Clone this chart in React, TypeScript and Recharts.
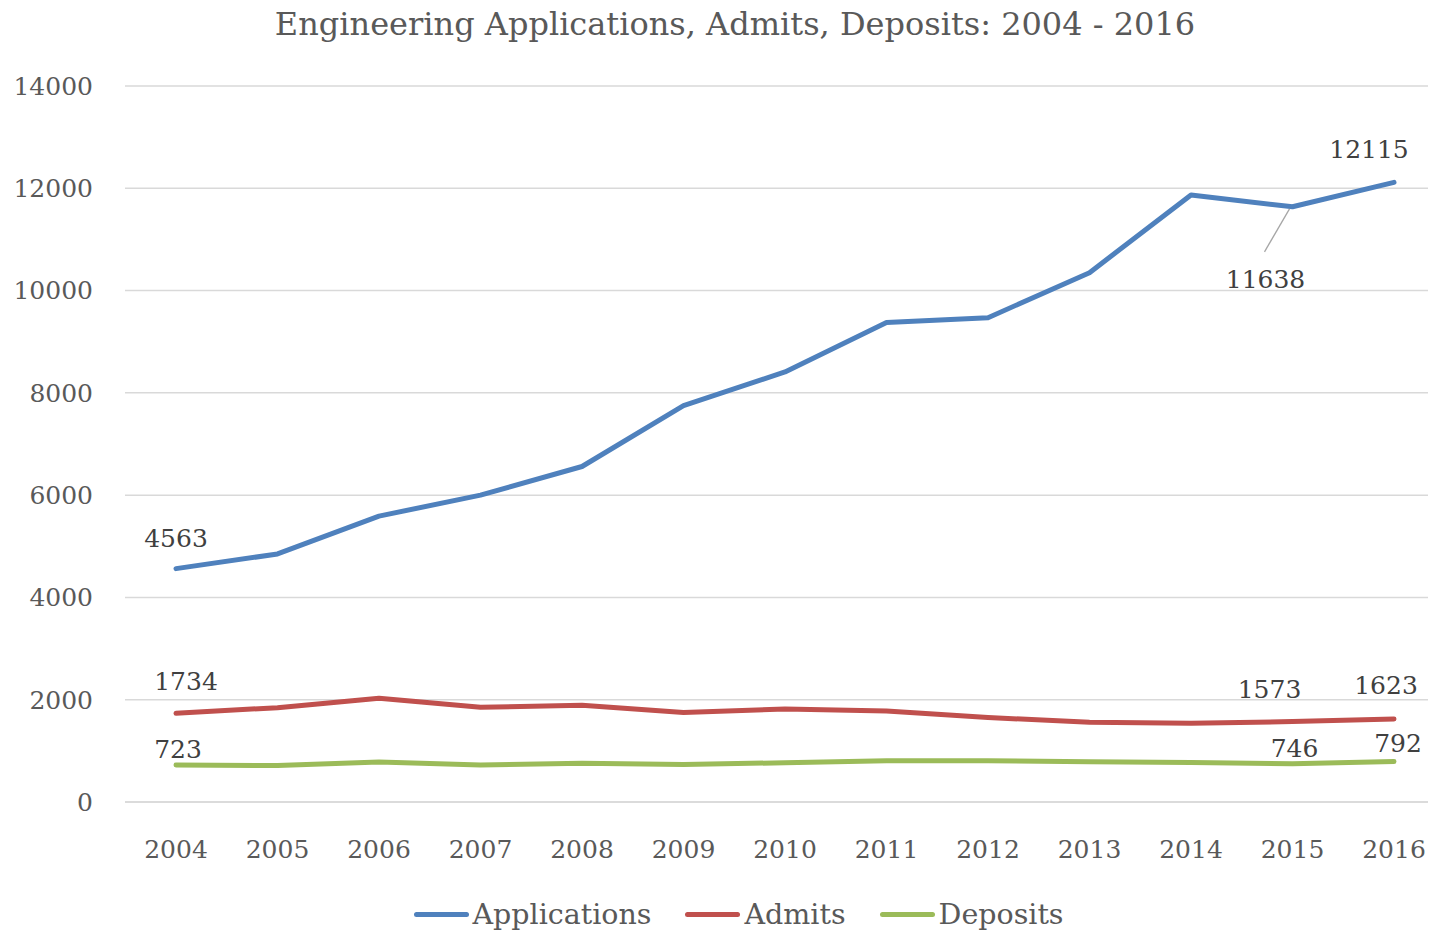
import React from "react";
import { LineChart, Line, XAxis, YAxis, CartesianGrid, LabelList } from "recharts";

const years = ["2004", "2005", "2006", "2007", "2008", "2009", "2010", "2011", "2012", "2013", "2014", "2015", "2016"];
const applications = [4563, 4850, 5590, 6000, 6560, 7750, 8410, 9375, 9470, 10350, 11870, 11638, 12115];
const admits = [1734, 1845, 2030, 1852, 1890, 1748, 1818, 1780, 1652, 1560, 1540, 1573, 1623];
const deposits = [723, 712, 782, 723, 758, 732, 768, 805, 806, 789, 770, 746, 792];
const yTicks = [0, 2000, 4000, 6000, 8000, 10000, 12000, 14000];

const data = years.map((y, i) => ({
  year: y,
  Applications: applications[i],
  Admits: admits[i],
  Deposits: deposits[i],
}));

const FONT = "'DejaVu Serif', serif";
const TICK_COLOR = "#595959";
const LABEL_COLOR = "#404040";
const COLORS = { Applications: "#4F81BD", Admits: "#C0504D", Deposits: "#9BBB59" };

// label placement per series: index -> offset from point
const labelPlacement: Record<string, Record<number, { dx: number; dy: number; leader?: boolean }>> = {
  Applications: { 0: { dx: 0, dy: -30 }, 11: { dx: -27, dy: 73, leader: true }, 12: { dx: -25, dy: -33 } },
  Admits: { 0: { dx: 10, dy: -32 }, 11: { dx: -23, dy: -32 }, 12: { dx: -8, dy: -33 } },
  Deposits: { 0: { dx: 2, dy: -16 }, 11: { dx: 2, dy: -15 }, 12: { dx: 4, dy: -18 } },
};

const makeLabel = (series: string) => (props: any) => {
  const { x, y, value, index } = props;
  const p = labelPlacement[series][index];
  if (!p) return null;
  return (
    <g>
      {p.leader && (
        <line x1={x - 3} y1={y + 2} x2={x - 28} y2={y + 45} stroke="#A6A6A6" strokeWidth={1.3} />
      )}
      <text
        x={x + p.dx}
        y={y + p.dy}
        textAnchor="middle"
        dominantBaseline="central"
        fill={LABEL_COLOR}
        fontFamily={FONT}
        fontSize={25}
      >
        {value}
      </text>
    </g>
  );
};

const legendItems = ["Applications", "Admits", "Deposits"] as const;

export default function App() {
  return (
    <div style={{ position: "absolute", left: 0, top: 0, width: 1429, height: 934, background: "#fff", overflow: "hidden" }}>
      <div
        style={{
          position: "absolute",
          left: 0,
          top: 5,
          width: 1470,
          textAlign: "center",
          fontFamily: FONT,
          fontSize: 32,
          color: TICK_COLOR,
          whiteSpace: "nowrap",
        }}
      >
        Engineering Applications, Admits, Deposits: 2004 - 2016
      </div>
      <LineChart
        width={1429}
        height={934}
        data={data}
        margin={{ top: 86, right: 1, bottom: 0, left: 0 }}
      >
        <CartesianGrid horizontal vertical={false} stroke="#D9D9D9" strokeWidth={1.5} />
        <XAxis
          dataKey="year"
          height={132}
          padding={{ left: 51, right: 34 }}
          axisLine={{ stroke: "#D9D9D9", strokeWidth: 1.5 }}
          tickLine={false}
          tickSize={0}
          tickMargin={38}
          tick={{ fill: TICK_COLOR, fontFamily: FONT, fontSize: 25 }}
          interval={0}
        />
        <YAxis
          width={125}
          domain={[0, 14000]}
          ticks={yTicks}
          axisLine={false}
          tickLine={false}
          tickSize={0}
          tickMargin={32}
          tick={{ fill: TICK_COLOR, fontFamily: FONT, fontSize: 25 }}
        />
        {(["Applications", "Admits", "Deposits"] as const).map((s) => (
          <Line
            key={s}
            type="linear"
            dataKey={s}
            stroke={COLORS[s]}
            strokeWidth={5}
            strokeLinecap="round"
            strokeLinejoin="round"
            dot={false}
            activeDot={false}
            isAnimationActive={false}
          >
            <LabelList dataKey={s} content={makeLabel(s)} />
          </Line>
        ))}
      </LineChart>
      <div
        style={{
          position: "absolute",
          left: 24,
          top: 898,
          width: 1429,
          display: "flex",
          justifyContent: "center",
          alignItems: "center",
          fontFamily: FONT,
          fontSize: 28.5,
          color: TICK_COLOR,
        }}
      >
        {legendItems.map((s) => (
          <div key={s} style={{ display: "flex", alignItems: "center", margin: "0 17px" }}>
            <div style={{ width: 55, height: 5, borderRadius: 3, background: COLORS[s], marginRight: 4 }} />
            <span>{s}</span>
          </div>
        ))}
      </div>
    </div>
  );
}
